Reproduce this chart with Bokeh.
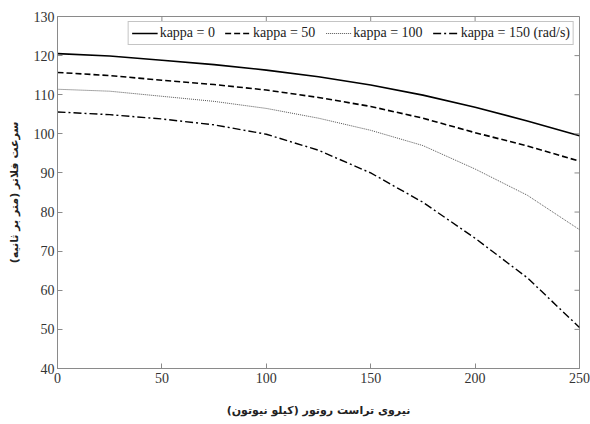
import math
from bokeh.plotting import figure
from bokeh.models import Legend, LegendItem, FixedTicker
from bokeh.embed import file_html
from bokeh.resources import INLINE

thrust = [0, 25, 50, 75, 100, 125, 150, 175, 200, 225, 250]
kappa_0 = [120.5, 119.9, 118.8, 117.7, 116.3, 114.6, 112.5, 109.9, 106.8, 103.3, 99.5]
kappa_50 = [115.7, 114.9, 113.7, 112.6, 111.2, 109.3, 107.0, 104.0, 100.3, 96.9, 93.0]
kappa_100 = [111.4, 110.9, 109.6, 108.3, 106.5, 104.0, 100.9, 97.0, 91.0, 84.3, 75.5]
kappa_150 = [105.6, 104.9, 103.8, 102.3, 99.9, 95.8, 90.0, 82.5, 73.3, 63.2, 50.5]
labels = ["kappa = 0", "kappa = 50", "kappa = 100", "kappa = 150 (rad/s)"]
x_ticks = [0, 50, 100, 150, 200, 250]
y_ticks = [40, 50, 60, 70, 80, 90, 100, 110, 120, 130]
x_label = "نیروی تراست روتور (کیلو نیوتون)"
y_label = "سرعت فلاتر (متر بر ثانیه)"

FONT = "Liberation Serif"
AX = "#8a8a8a"
X_MIN, X_MAX, Y_MIN, Y_MAX = 0, 250, 40, 130

p = figure(width=590, height=424, output_backend="svg", toolbar_location=None,
           x_range=(X_MIN, X_MAX), y_range=(Y_MIN, Y_MAX),
           min_border_left=57, min_border_right=11, min_border_top=16, min_border_bottom=56)
p.outline_line_color = AX
p.outline_line_width = 1
p.grid.visible = False
p.background_fill_color = "white"
p.border_fill_color = "white"

styles = [
    dict(line_dash="solid", line_width=1.6, line_color="black"),
    dict(line_dash="6 3", line_width=1.6, line_color="black"),
    dict(line_dash="1 1", line_width=1.0, line_color="#555555"),
    dict(line_dash="8 3 2 3", line_width=1.4, line_color="black"),
]
series = [kappa_0, kappa_50, kappa_100, kappa_150]
renderers = []
for ys, st in zip(series, styles):
    renderers.append(p.line(thrust, ys, **st))

# inward ticks on the top and right frame edges (MATLAB box style)
p.ray(x=x_ticks, y=[Y_MAX] * len(x_ticks), length=5, length_units="screen",
      angle=-math.pi / 2, line_color=AX, line_width=1)
p.ray(x=[X_MAX] * len(y_ticks), y=y_ticks, length=5, length_units="screen",
      angle=math.pi, line_color=AX, line_width=1)

for ax in p.xaxis + p.yaxis:
    ax.axis_line_color = AX
    ax.major_tick_line_color = AX
    ax.major_tick_in = 5
    ax.major_tick_out = 0
    ax.minor_tick_line_color = None
    ax.major_label_text_font = FONT
    ax.major_label_text_font_size = "14px"
    ax.major_label_text_color = "#333333"
    ax.axis_label_text_font = "DejaVu Sans"
    ax.axis_label_text_font_style = "bold"
    ax.axis_label_text_font_size = "11px"
    ax.axis_label_text_color = "#222222"

p.xaxis.ticker = FixedTicker(ticks=x_ticks)
p.yaxis.ticker = FixedTicker(ticks=y_ticks)
p.xaxis.axis_label = x_label
p.yaxis.axis_label = y_label
p.xaxis.axis_label_standoff = 18
p.yaxis.axis_label_standoff = 10
p.xaxis.major_label_standoff = 4
p.yaxis.major_label_standoff = 3

legend = Legend(items=[LegendItem(label=l, renderers=[r]) for l, r in zip(labels, renderers)],
                orientation="horizontal", location="top_right")
legend.label_text_font = FONT
legend.label_text_font_size = "14px"
legend.label_text_color = "#222222"
legend.border_line_color = AX
legend.border_line_width = 1
legend.glyph_width = 26
legend.glyph_height = 14
legend.label_standoff = 2
legend.spacing = 10
legend.padding = 3
legend.margin = 5
legend.label_height = 14
p.add_layout(legend, "center")

open("out.html", "w").write(file_html(p, INLINE))
